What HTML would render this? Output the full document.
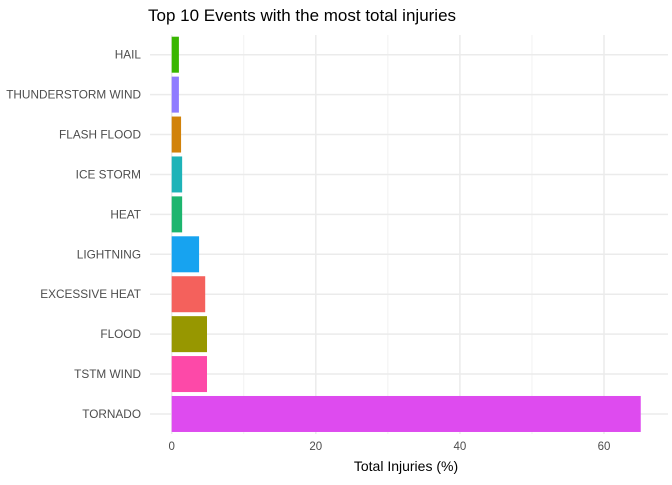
<!DOCTYPE html>
<html><head><meta charset="utf-8"><style>
body{margin:0;background:#fff;font-family:"Liberation Sans",sans-serif;}
</style></head><body>
<svg id="c" width="672" height="480" xmlns="http://www.w3.org/2000/svg">
<text x="148" y="21" font-size="17" fill="#000">Top 10 Events with the most total injuries</text>
<g id="grid"></g><g id="bars"></g><g id="labels"></g>
<text x="406" y="471" font-size="14" text-anchor="middle" fill="#000">Total Injuries (%)</text>
</svg>
<script>
const categories=["HAIL","THUNDERSTORM WIND","FLASH FLOOD","ICE STORM","HEAT","LIGHTNING","EXCESSIVE HEAT","FLOOD","TSTM WIND","TORNADO"];
const values=[1.0,1.0,1.3,1.45,1.45,3.8,4.65,4.9,4.9,65.1];
const colors=["#39b600","#8f7cff","#d1820a","#1eb3b8","#1db56e","#17a3f0","#f4615c","#979700","#fd49a8","#de4bef"];
const xTicks=[0,20,40,60];
const minorTicks=[10,30,50];
const ns="http://www.w3.org/2000/svg";
const L=150,R=668,T=35,B=434;
const x=v=>171.7+v*7.205;
const y=i=>54.7+i*39.92;
function mk(t,a,p){const e=document.createElementNS(ns,t);for(const k in a)e.setAttribute(k,a[k]);p.appendChild(e);return e;}
const g=document.getElementById('grid'),b=document.getElementById('bars'),lb=document.getElementById('labels');
minorTicks.forEach(v=>{const e=mk('line',{x1:x(v),x2:x(v),y1:T,y2:B,stroke:'#f2f2f2','stroke-width':1},g);

});
xTicks.forEach(v=>{const e=mk('line',{x1:x(v),x2:x(v),y1:T,y2:B,stroke:'#ebebeb','stroke-width':1.5},g);


const t=mk('text',{x:x(v),y:450,'font-size':11.5,'text-anchor':'middle',fill:'#4d4d4d'},lb);t.textContent=v;

});
categories.forEach((c,i)=>{const e=mk('line',{x1:L,x2:R,y1:y(i),y2:y(i),stroke:'#ebebeb','stroke-width':1.5},g);


const r=mk('rect',{x:x(0),y:y(i)-18,width:x(values[i])-x(0),height:36,fill:colors[i]},b);


const t=mk('text',{x:141,y:y(i)+4,'font-size':11.8,'text-anchor':'end',fill:'#4d4d4d'},lb);t.textContent=c;

});
</script>
</body></html>
